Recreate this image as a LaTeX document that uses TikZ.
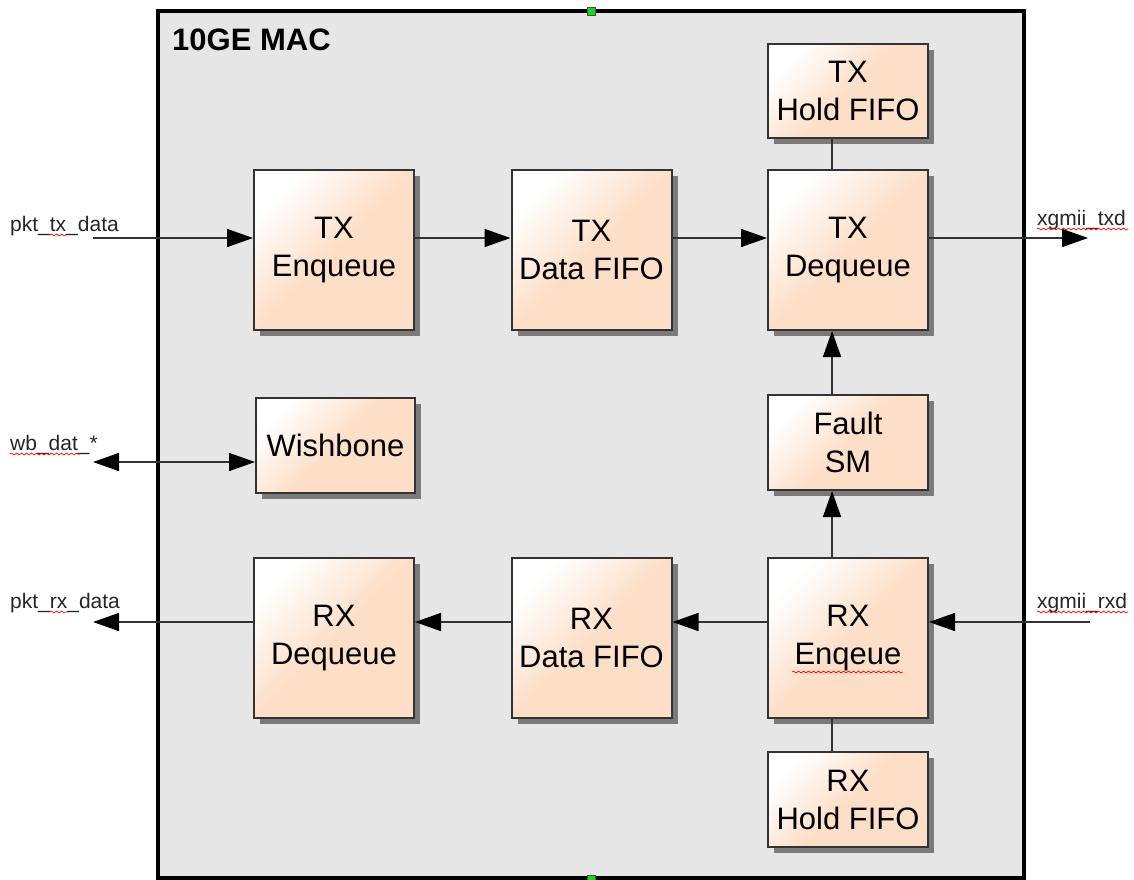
\documentclass[tikz,border=0pt]{standalone}
\usepackage{fontspec}
\setmainfont{Liberation Sans}
\usetikzlibrary{arrows.meta,shadows,decorations.pathmorphing}
\definecolor{macbg}{RGB}{230,230,230}
\definecolor{peach}{RGB}{253,223,200}
\definecolor{linec}{RGB}{51,51,51}
\definecolor{mark}{RGB}{20,220,20}
\tikzset{
  blk/.style={draw=linec, line width=2pt, rectangle, align=center, inner sep=0pt,
    top color=white, bottom color=peach, middle color=peach, shading angle=45,
    drop shadow={shadow xshift=6pt, shadow yshift=-6pt, fill=black!52, opacity=1},
    font=\fontsize{31}{38}\selectfont, text=black},
  big/.style={blk, minimum width=160pt, minimum height=160pt},
  small/.style={blk, minimum width=160pt, minimum height=95pt},
  sig/.style={font=\fontsize{21}{25}\selectfont, inner sep=0pt, anchor=base west, text=black!85},
  tipa/.tip={Triangle[length=26pt,width=18pt,fill=black,color=black]},
  conn/.style={draw=linec, line width=1.6pt, -tipa},
  both/.style={draw=linec, line width=1.6pt, tipa-tipa},
  plain/.style={draw=linec, line width=1.6pt},
  squig/.style={draw=red, line width=0.7pt, decorate, decoration={snake, amplitude=0.9pt, segment length=5pt}},
  marker/.style={draw=black!70, fill=mark, line width=1pt, minimum size=8pt, inner sep=0pt}
}
\begin{document}
\begin{tikzpicture}[x=1pt,y=-1pt]
\useasboundingbox (0,0) rectangle (1134,879);
\begin{scope}
\clip (0,0) rectangle (1134,879);
\draw[fill=macbg, line width=4.5pt, draw=black] (158,11) rectangle (1024,878);
\node[marker] (mtop) at (591,11) {};
\node[marker] (mbot) at (591,879) {};
\end{scope}
\node[font=\fontsize{31}{36}\selectfont\bfseries, anchor=base west, inner sep=0pt] (title) at (172,50) {10GE MAC};

% blocks
\node[big] (txenq) at (334,250) {TX\\Enqueue};
\node[big] (txfifo) at (591.5,250) {TX\\Data FIFO};
\node[big] (txdeq) at (848,250) {TX\\Dequeue};
\node[small, minimum height=94pt] (txhold) at (848,91) {TX\\Hold FIFO};
\node[small, minimum width=159pt] (wb) at (335.5,445.5) {Wishbone};
\node[small] (fault) at (848,442.5) {Fault\\SM};
\node[big] (rxdeq) at (334,638) {RX\\Dequeue};
\node[big] (rxfifo) at (591.5,638) {RX\\Data FIFO};
\node[big] (rxenq) at (848,638) {RX\\Enqeue};
\node[small] (rxhold) at (848,799.5) {RX\\Hold FIFO};

% signal labels
\node[sig] (ltx) at (10,231) {pkt\_tx\_data};
\node[sig] (lwb) at (10,450) {wb\_dat\_*};
\node[sig] (lrx) at (10,608) {pkt\_rx\_data};
\node[sig] (ltxd) at (1037,225) {xgmii\_txd};
\node[sig] (lrxd) at (1037,608) {xgmii\_rxd};

\coordinate (ptx) at (93,238);
\coordinate (pwb) at (93,462);
\coordinate (prx) at (93,622);
\coordinate (ptxd) at (1088,238);
\coordinate (prxd) at (1090,622);

% connectors
\draw[conn] (ptx) -- ([yshift=12pt]txenq.west);
\draw[conn] ([yshift=12pt]txenq.east) -- ([yshift=12pt]txfifo.west);
\draw[conn] ([yshift=12pt]txfifo.east) -- ([yshift=12pt]txdeq.west);
\draw[conn] ([yshift=12pt]txdeq.east) -- (ptxd);
\draw[both] (pwb) -- ([yshift=-16.5pt]wb.west);
\draw[conn] ([yshift=16pt]rxdeq.west) -- (prx);
\draw[conn] ([yshift=16pt]rxfifo.west) -- ([yshift=16pt]rxdeq.east);
\draw[conn] ([yshift=16pt]rxenq.west) -- ([yshift=16pt]rxfifo.east);
\draw[conn] (prxd) -- ([yshift=16pt]rxenq.east);
\draw[plain] ([xshift=-16pt]txhold.south) -- ([xshift=-16pt]txdeq.north);
\draw[conn] ([xshift=-16pt]fault.north) -- ([xshift=-16pt]txdeq.south);
\draw[conn] ([xshift=-16pt]rxenq.north) -- ([xshift=-16pt]fault.south);
\draw[plain] ([xshift=-16pt]rxenq.south) -- ([xshift=-16pt]rxhold.north);

% spell-check squiggles
\draw[squig] (50,235) -- (67,235);
\draw[squig] (10,454) -- (80,454);
\draw[squig] (50,612) -- (67,612);
\draw[squig] (1037,229) -- (1128,229);
\draw[squig] (1037,612) -- (1128,612);
\draw[squig] (792,672) -- (903,672);
\end{tikzpicture}
\end{document}
